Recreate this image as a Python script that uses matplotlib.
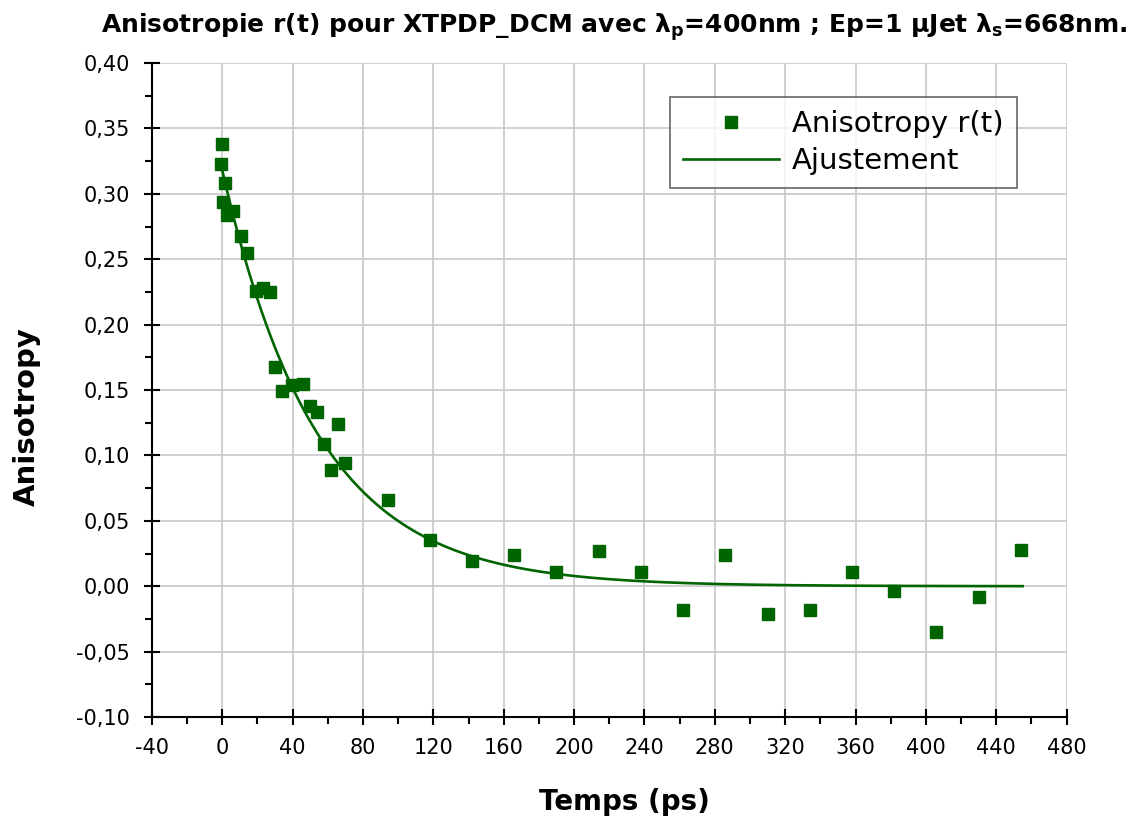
import numpy as np
import matplotlib
matplotlib.use('Agg')
import matplotlib.pyplot as plt
from matplotlib.ticker import MultipleLocator, FuncFormatter

# donnees
temps = [0, -0.5, 1.5, 0.3, 6, 2.6, 10.6, 14, 19, 23, 27,
         30, 34, 39.5, 46, 50, 54, 66, 58, 70, 62,
         94, 118, 142, 166, 190, 214, 238, 262, 286, 310, 334, 358, 382, 406, 430, 454]
anisotropie = [0.338, 0.323, 0.308, 0.294, 0.287, 0.284, 0.268, 0.255, 0.226, 0.228, 0.225,
               0.168, 0.149, 0.154, 0.155, 0.138, 0.133, 0.124, 0.109, 0.094, 0.089,
               0.066, 0.035, 0.019, 0.024, 0.011, 0.027, 0.011, -0.018, 0.024, -0.021, -0.018,
               0.011, -0.004, -0.035, -0.008, 0.028]

# parametres de l'ajustement mono-exponentiel
r0 = 0.318
tau = 54.0
t_fin = 455

vert = '#006400'

fig = plt.figure(figsize=(11.42, 8.19), dpi=100)
ax = fig.add_axes([0.133, 0.1245, 0.801, 0.7985])

t_fit = np.linspace(0, t_fin, 400)
ax.plot(t_fit, r0 * np.exp(-t_fit / tau), color=vert, lw=1.9, label='Ajustement', zorder=3)
ax.plot(temps, anisotropie, 's', color=vert, ms=8.5, mec=vert, label='Anisotropy r(t)', zorder=4)

ax.set_xlim(-40, 480)
ax.set_ylim(-0.10, 0.40)
ax.xaxis.set_major_locator(MultipleLocator(40))
ax.xaxis.set_minor_locator(MultipleLocator(20))
ax.yaxis.set_major_locator(MultipleLocator(0.05))
ax.yaxis.set_minor_locator(MultipleLocator(0.025))
ax.yaxis.set_major_formatter(FuncFormatter(lambda v, p: ('%.2f' % v).replace('.', ',')))
ax.xaxis.set_major_formatter(FuncFormatter(lambda v, p: '%d' % v))

ax.grid(True, which='major', color='#c8c8c8', lw=1.2)
ax.set_axisbelow(True)
for s in ['top', 'right']:
    ax.spines[s].set_visible(False)
for s in ['left', 'bottom']:
    ax.spines[s].set_linewidth(1.5)
ax.tick_params(which='major', direction='inout', length=12, width=1.5, labelsize=15)
ax.tick_params(which='minor', direction='out', length=5, width=1.5)
ax.tick_params(axis='x', pad=9)
ax.tick_params(axis='y', pad=10)

ax.set_xlabel('Temps (ps)', fontsize=20, fontweight='bold')
ax.xaxis.set_label_coords(0.517, -0.108)
ax.set_ylabel('Anisotropy', fontsize=21, fontweight='bold')
ax.yaxis.set_label_coords(-0.121, 0.459)

fig.text(0.538, 0.967,
         r'Anisotropie r(t) pour XTPDP_DCM avec $\mathbf{\lambda_p}$=400nm ; Ep=1 $\mathbf{\mu}$Jet $\mathbf{\lambda_s}$=668nm.',
         ha='center', va='center', fontsize=18, fontweight='bold')

handles, labels = ax.get_legend_handles_labels()
leg = ax.legend(handles[::-1], labels[::-1], loc='upper left', bbox_to_anchor=(0.566, 0.948),
                borderaxespad=0, fontsize=21, frameon=True, fancybox=False, edgecolor='#404040',
                handlelength=3.3, handletextpad=0.45, borderpad=0.45, labelspacing=0.3)
leg.get_frame().set_linewidth(1.2)

fig.savefig('out.png', dpi=100)
